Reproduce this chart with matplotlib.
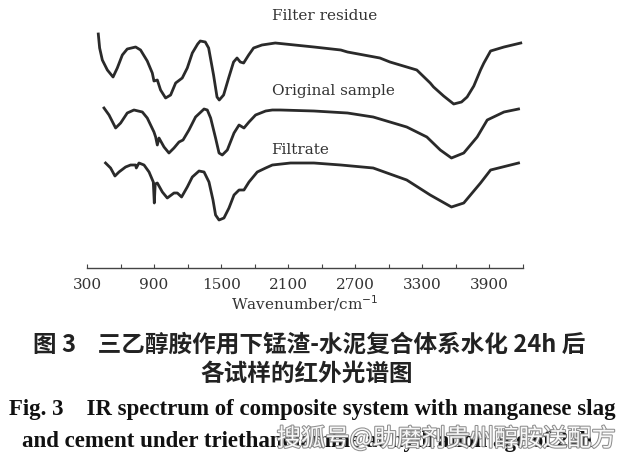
import numpy as np
import matplotlib.pyplot as plt
import matplotlib.patheffects as pe

# wavenumber (cm-1) and relative transmittance (arbitrary units, offset per curve)
wn_residue = [401, 413, 437, 482, 533, 571, 616, 660, 735, 779, 839, 884, 899, 929,
              958, 1003, 1048, 1093, 1152, 1197, 1242, 1290, 1313, 1358, 1388, 1432,
              1463, 1483, 1522, 1567, 1611, 1642, 1671, 1701, 1746, 1790, 1865, 1984,
              2330, 2570, 2630, 2920, 3010, 3190, 3250, 3370, 3400, 3490, 3580, 3650,
              3700, 3760, 3820, 3850, 3910, 4030, 4180]
tr_residue = [234, 220, 208, 198, 191, 200, 213, 219, 221, 218, 207, 195, 187, 188,
              178, 170, 173, 185, 190, 200, 215, 224, 227, 226, 220, 193,
              171, 168, 173, 190, 206, 210, 206, 205, 213, 220, 223, 225,
              221, 218, 216, 210, 206, 200, 198, 185, 181, 172, 164, 166,
              171, 182, 198, 205, 217, 221, 225]

wn_original = [452, 497, 556, 601, 660, 720, 795, 839, 899, 914, 929, 944, 989, 1033,
               1078, 1123, 1159, 1212, 1271, 1347, 1376, 1406, 1450, 1481, 1510, 1555,
               1615, 1660, 1704, 1749, 1808, 1898, 1958, 2030, 2330, 2630, 2860, 3160,
               3340, 3460, 3560, 3670, 3790, 3880, 4030, 4160]
tr_original = [160, 153, 140, 145, 155, 158, 156, 150, 136, 131, 123, 130, 121, 115,
               120, 126, 128, 138, 151, 159, 158, 150, 130, 115, 113, 118,
               135, 143, 140, 146, 153, 157, 158, 158, 157, 155, 151, 141,
               131, 118, 110, 115, 131, 148, 156, 159]

wn_filtrate = [466, 511, 550, 586, 645, 690, 735, 741, 765, 810, 855, 893, 902, 910,
               929, 974, 1018, 1078, 1108, 1146, 1197, 1242, 1302, 1347, 1391, 1427,
               1450, 1481, 1525, 1570, 1615, 1660, 1704, 1749, 1823, 1898, 1958, 2120,
               2330, 2570, 2860, 3160, 3370, 3560, 3670, 3820, 3910, 4160]
tr_filtrate = [105, 100, 92, 96, 101, 103, 103, 100, 105, 103, 96, 86, 65, 84,
               85, 76, 70, 75, 75, 71, 81, 91, 97, 96, 86, 68,
               53, 48, 50, 60, 73, 78, 78, 86, 96, 100, 103, 105,
               105, 103, 100, 88, 73, 61, 65, 85, 98, 105]

xticks = np.arange(300, 4201, 300)
xticklabels = [str(t) if (t - 300) % 600 == 0 else '' for t in xticks]

plt.rcParams['font.family'] = ['DejaVu Serif']

fig = plt.figure(figsize=(6.25, 4.63), dpi=100)
ax = fig.add_axes([87 / 625, (463 - 268) / 463, 436 / 625, 268 / 463])

line_color = '#2a2a2a'
ax.plot(wn_residue, tr_residue, color=line_color, lw=2.0)
ax.plot(wn_original, tr_original, color=line_color, lw=2.0)
ax.plot(wn_filtrate, tr_filtrate, color=line_color, lw=2.0)

ax.text(1958, 252, 'Filter residue', fontsize=11, color='#333333', ha='left', va='center')
ax.text(1958, 177, 'Original sample', fontsize=11, color='#333333', ha='left', va='center')
ax.text(1950, 118, 'Filtrate', fontsize=11, color='#333333', ha='left', va='center')

ax.set_xlim(300, 4200)
ax.set_ylim(0, 268)
ax.set_xticks(xticks)
ax.set_xticklabels(xticklabels, fontsize=11, color='#333333')
ax.tick_params(axis='x', direction='in', length=3, width=0.8, color='#444444', pad=7)
ax.set_yticks([])
for s in ['top', 'left', 'right']:
    ax.spines[s].set_visible(False)
ax.spines['bottom'].set_color('#444444')
ax.spines['bottom'].set_linewidth(1.0)
ax.set_xlabel('Wavenumber/cm$^{-1}$', fontsize=11, color='#333333', labelpad=1)

cjk = ['Noto Sans CJK SC', 'DejaVu Sans']
fig.text(309 / 625, 1 - 345 / 463, '图 3    三乙醇胺作用下锰渣-水泥复合体系水化 24h 后',
         family=cjk, fontsize=17, fontweight='bold', color='#222222', ha='center', va='center')
fig.text(307 / 625, 1 - 374 / 463, '各试样的红外光谱图',
         family=cjk, fontsize=17, fontweight='bold', color='#222222', ha='center', va='center')
fig.text(312 / 625, 1 - 409 / 463, 'Fig. 3    IR spectrum of composite system with manganese slag',
         family=['Liberation Serif'], fontsize=16.5, fontweight='bold', color='#111111',
         ha='center', va='center')
fig.text(22 / 625, 1 - 442 / 463, 'and cement under triethanolamine at hydration age of 24h',
         family=['Liberation Serif'], fontsize=16.5, fontweight='bold', color='#111111',
         ha='left', va='center')
fig.text(615 / 625, 1 - 439 / 463, '搜狐号@助磨剂贵州醇胺送配方',
         family=cjk, fontsize=17.5, color='white', alpha=0.95, ha='right', va='center',
         path_effects=[pe.withStroke(linewidth=1.5, foreground='#888888')])

fig.savefig('out.png', dpi=100)
